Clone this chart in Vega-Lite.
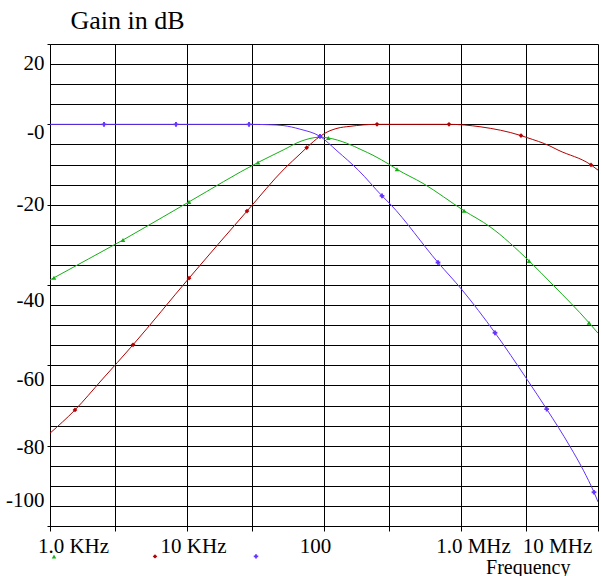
{
  "$schema": "https://vega.github.io/schema/vega-lite/v6.json",
  "width": 548,
  "height": 482,
  "autosize": {"type": "none"},
  "padding": {"left": 50, "top": 44, "right": 3, "bottom": 50},
  "background": "white",
  "config": {"view": {"stroke": null}, "font": "Liberation Serif"},
  "data": {
    "values": [
      {"s": "bp", "f": 1000, "g": -38.75, "m": 0},
      {"s": "bp", "f": 1069, "g": -38.2, "m": 1},
      {"s": "bp", "f": 3410, "g": -28.8, "m": 1},
      {"s": "bp", "f": 10342, "g": -19.3, "m": 1},
      {"s": "bp", "f": 32977, "g": -9.5, "m": 1},
      {"s": "bp", "f": 51000, "g": -6.3, "m": 0},
      {"s": "bp", "f": 66784, "g": -4.3, "m": 0},
      {"s": "bp", "f": 93500, "g": -3.2, "m": 0},
      {"s": "bp", "f": 107500, "g": -3.4, "m": 1},
      {"s": "bp", "f": 146400, "g": -4.7, "m": 0},
      {"s": "bp", "f": 189400, "g": -6.4, "m": 0},
      {"s": "bp", "f": 227900, "g": -7.7, "m": 0},
      {"s": "bp", "f": 303300, "g": -10.1, "m": 0},
      {"s": "bp", "f": 341100, "g": -11.2, "m": 1},
      {"s": "bp", "f": 528000, "g": -14.7, "m": 0},
      {"s": "bp", "f": 1052000, "g": -21.5, "m": 1},
      {"s": "bp", "f": 1628000, "g": -25.5, "m": 0},
      {"s": "bp", "f": 3137000, "g": -34.0, "m": 1},
      {"s": "bp", "f": 4694000, "g": -40.0, "m": 0},
      {"s": "bp", "f": 8598000, "g": -49.4, "m": 1},
      {"s": "bp", "f": 10000000, "g": -52.0, "m": 0},

      {"s": "hp", "f": 1000, "g": -76.9, "m": 0},
      {"s": "hp", "f": 1522, "g": -71.1, "m": 1},
      {"s": "hp", "f": 2385, "g": -63.65, "m": 0},
      {"s": "hp", "f": 4036, "g": -54.9, "m": 1},
      {"s": "hp", "f": 10342, "g": -38.3, "m": 1},
      {"s": "hp", "f": 27416, "g": -21.6, "m": 1},
      {"s": "hp", "f": 51929, "g": -10.9, "m": 0},
      {"s": "hp", "f": 66784, "g": -7.4, "m": 0},
      {"s": "hp", "f": 74750, "g": -5.8, "m": 1},
      {"s": "hp", "f": 93500, "g": -3.0, "m": 0},
      {"s": "hp", "f": 101700, "g": -2.2, "m": 0},
      {"s": "hp", "f": 124400, "g": -1.0, "m": 0},
      {"s": "hp", "f": 154800, "g": -0.5, "m": 0},
      {"s": "hp", "f": 243700, "g": 0, "m": 1},
      {"s": "hp", "f": 500000, "g": 0, "m": 0},
      {"s": "hp", "f": 817300, "g": 0, "m": 1},
      {"s": "hp", "f": 1376000, "g": -0.6, "m": 0},
      {"s": "hp", "f": 2742000, "g": -2.8, "m": 1},
      {"s": "hp", "f": 3033000, "g": -3.3, "m": 0},
      {"s": "hp", "f": 4462000, "g": -5.4, "m": 0},
      {"s": "hp", "f": 5105000, "g": -6.4, "m": 0},
      {"s": "hp", "f": 8891000, "g": -10.1, "m": 1},
      {"s": "hp", "f": 10000000, "g": -11.4, "m": 0},

      {"s": "lp", "f": 1000, "g": 0, "m": 0},
      {"s": "lp", "f": 2479, "g": 0, "m": 1},
      {"s": "lp", "f": 8311, "g": 0, "m": 1},
      {"s": "lp", "f": 28353, "g": 0, "m": 1},
      {"s": "lp", "f": 40000, "g": -0.1, "m": 0},
      {"s": "lp", "f": 50212, "g": -0.3, "m": 0},
      {"s": "lp", "f": 66784, "g": -1.2, "m": 0},
      {"s": "lp", "f": 93500, "g": -3.0, "m": 1},
      {"s": "lp", "f": 124400, "g": -6.6, "m": 0},
      {"s": "lp", "f": 178000, "g": -11.4, "m": 0},
      {"s": "lp", "f": 265100, "g": -17.8, "m": 1},
      {"s": "lp", "f": 303300, "g": -19.8, "m": 0},
      {"s": "lp", "f": 679400, "g": -34.4, "m": 1},
      {"s": "lp", "f": 1017000, "g": -41.2, "m": 0},
      {"s": "lp", "f": 1771000, "g": -51.9, "m": 1},
      {"s": "lp", "f": 3033000, "g": -63.5, "m": 0},
      {"s": "lp", "f": 4222000, "g": -70.9, "m": 1},
      {"s": "lp", "f": 6246000, "g": -80.2, "m": 0},
      {"s": "lp", "f": 7810000, "g": -86.1, "m": 0},
      {"s": "lp", "f": 9350000, "g": -91.6, "m": 1},
      {"s": "lp", "f": 10000000, "g": -94.0, "m": 0}
    ]
  },
  "encoding": {
    "x": {
      "field": "f",
      "type": "quantitative",
      "scale": {"type": "log", "domain": [1000, 10000000], "nice": false},
      "axis": {
        "values": [1000, 3000, 10000, 30000, 100000, 300000, 1000000, 3000000, 10000000],
        "labelExpr": "datum.value == 1000 ? '1.0 KHz' : datum.value == 10000 ? '10 KHz' : datum.value == 100000 ? '100' : datum.value == 1000000 ? '1.0 MHz' : datum.value == 10000000 ? '10 MHz' : ''",
        "labelOffset": {"condition": [
          {"test": "datum.value == 1000", "value": 23},
          {"test": "datum.value == 10000", "value": 6},
          {"test": "datum.value == 100000", "value": -9},
          {"test": "datum.value == 1000000", "value": 12},
          {"test": "datum.value == 10000000", "value": -41}
        ], "value": 0},
        "labelFont": "Liberation Serif",
        "labelFontSize": 21,
        "labelColor": "black",
        "labelPadding": 4,
        "labelFlush": false,
        "labelOverlap": false,
        "labelBound": false,
        "grid": true,
        "gridColor": "black",
        "gridOpacity": 1,
        "gridWidth": 1,
        "domainColor": "black",
        "tickColor": "black",
        "tickSize": 5,
        "title": "Frequency",
        "titleFont": "Liberation Serif",
        "titleFontSize": 20,
        "titleFontWeight": "normal",
        "titleColor": "black",
        "titleAlign": "right",
        "titleBaseline": "alphabetic",
        "titleX": 520,
        "titleY": 47
      }
    },
    "y": {
      "field": "g",
      "type": "quantitative",
      "scale": {"domain": [-100, 20], "nice": false, "zero": false},
      "axis": {
        "values": [20, 15, 10, 5, 0, -5, -10, -15, -20, -25, -30, -35, -40, -45, -50, -55, -60, -65, -70, -75, -80, -85, -90, -95, -100],
        "labelExpr": "datum.value % 20 == 0 ? (datum.value == 0 ? '-0' : toString(datum.value)) : ''",
        "labelOffset": {"condition": [
          {"test": "datum.value == 20", "value": 19},
          {"test": "datum.value == 0", "value": 8},
          {"test": "datum.value == -40", "value": 15},
          {"test": "datum.value == -60", "value": 14},
          {"test": "datum.value == -80", "value": 2},
          {"test": "datum.value == -100", "value": -26}
        ], "value": 0},
        "labelFont": "Liberation Serif",
        "labelFontSize": 21,
        "labelColor": "black",
        "labelPadding": 3,
        "labelFlush": false,
        "labelOverlap": false,
        "labelBound": false,
        "grid": true,
        "gridColor": "black",
        "gridOpacity": 1,
        "gridWidth": 1,
        "domainColor": "black",
        "tickColor": "black",
        "tickSize": 3,
        "tickOpacity": {"condition": {"test": "datum.value % 20 == 0", "value": 1}, "value": 0},
        "title": "Gain in dB",
        "titleFont": "Liberation Serif",
        "titleFontSize": 26,
        "titleFontWeight": "normal",
        "titleColor": "black",
        "titleAngle": 0,
        "titleAlign": "left",
        "titleBaseline": "alphabetic",
        "titleX": 20,
        "titleY": -16
      }
    }
  },
  "layer": [
    {
      "transform": [{"filter": "datum.s == 'bp'"}],
      "mark": {"type": "line", "interpolate": "monotone", "strokeWidth": 1, "clip": true, "color": "#14b014"}
    },
    {
      "transform": [{"filter": "datum.s == 'hp'"}],
      "mark": {"type": "line", "interpolate": "monotone", "strokeWidth": 1, "clip": true, "color": "#b40000"}
    },
    {
      "transform": [{"filter": "datum.s == 'lp'"}],
      "mark": {"type": "line", "interpolate": "monotone", "strokeWidth": 1, "clip": true, "color": "#6633ff"}
    },
    {
      "transform": [{"filter": "datum.m == 1"}],
      "mark": {"type": "point", "filled": true, "size": 22, "opacity": 1},
      "encoding": {
        "color": {
          "field": "s",
          "type": "nominal",
          "scale": {"domain": ["bp", "hp", "lp"], "range": ["#14b014", "#b40000", "#6633ff"]},
          "legend": {
            "orient": "none", "legendX": 1, "legendY": 509, "direction": "horizontal", "columns": 3,
            "title": null, "symbolSize": 20, "labelOffset": 0, "labelFontSize": 1, "labelOpacity": 0,
            "columnPadding": 94, "padding": 0
          }
        },
        "shape": {
          "field": "s",
          "type": "nominal",
          "scale": {"domain": ["bp", "hp", "lp"], "range": ["triangle-up", "diamond", "cross"]},
          "legend": {
            "orient": "none", "legendX": 1, "legendY": 509, "direction": "horizontal", "columns": 3,
            "title": null, "symbolSize": 20, "labelOffset": 0, "labelFontSize": 1, "labelOpacity": 0,
            "columnPadding": 94, "padding": 0
          }
        }
      }
    }
  ]
}
